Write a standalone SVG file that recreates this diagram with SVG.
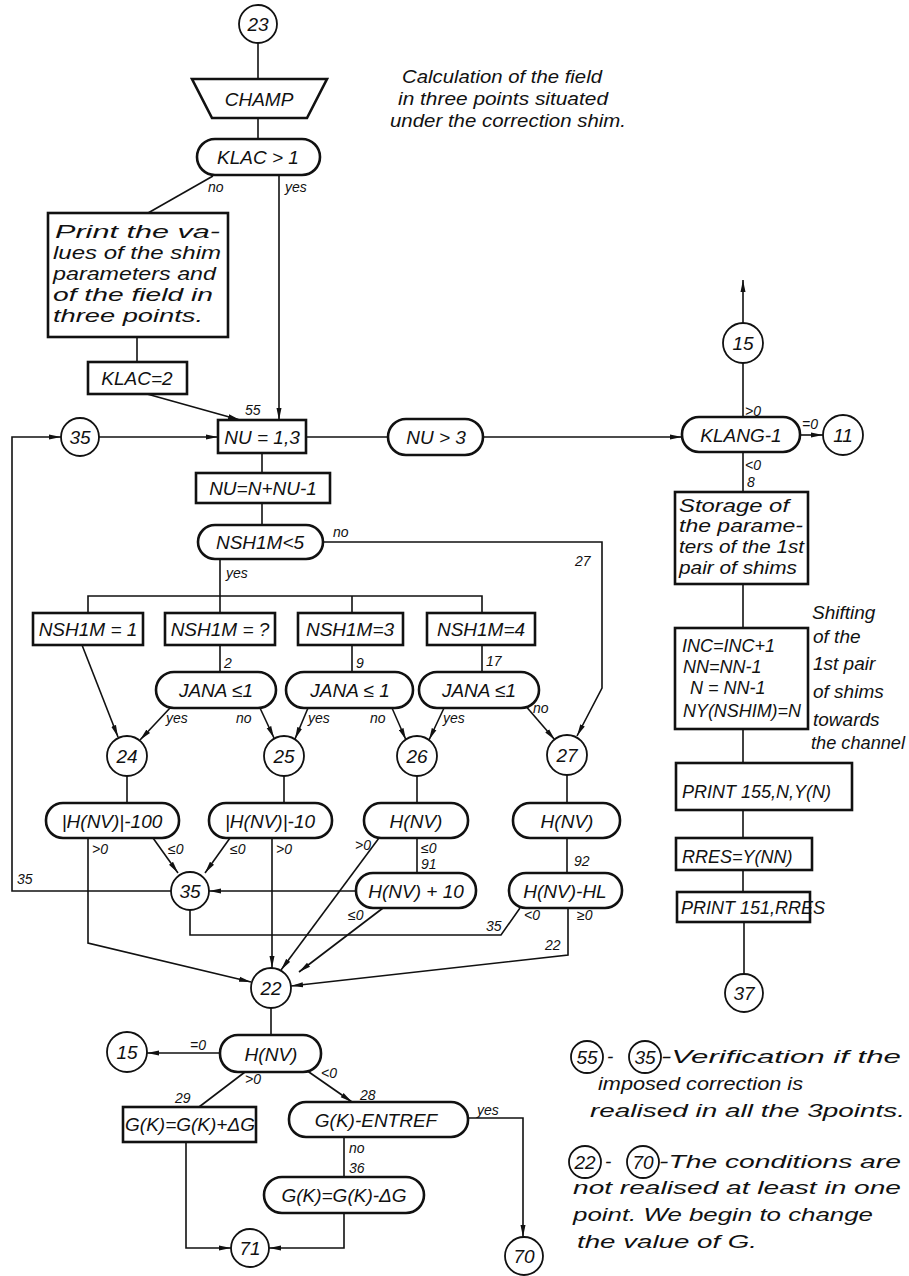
<svg xmlns="http://www.w3.org/2000/svg" width="909" height="1276" viewBox="0 0 909 1276">
<defs>
<marker id="ar" markerUnits="userSpaceOnUse" markerWidth="12" markerHeight="6" refX="12" refY="3" orient="auto"><path d="M0,0.5 L12,3 L0,5.5 z" fill="#111"/></marker>
<style>
.ln{stroke:#111;stroke-width:1.6;fill:none}
.bx{stroke:#111;stroke-width:2.6;fill:#fff}
.ci{stroke:#111;stroke-width:1.8;fill:#fff}
text{font-family:"Liberation Sans",Arial,sans-serif;font-style:italic;fill:#111}
.m{font-size:19px;text-anchor:middle}
.s{font-size:14px}
.n{font-size:18px}
.h{font-size:19px}
</style>
</defs>
<rect width="909" height="1276" fill="#fff"/>
<g id="connectors">
<path class="ln" d="M258,43 V79"/>
<path class="ln" d="M258,118 V139"/>
<path class="ln" d="M213,176 L148,213"/>
<path class="ln" d="M279,175 V420" marker-end="url(#ar)"/>
<path class="ln" d="M137,337 V362"/>
<path class="ln" d="M147,394 L240,420" marker-end="url(#ar)"/>
<path class="ln" d="M171,891 H12 V437 H61" marker-end="url(#ar)"/>
<path class="ln" d="M99,437 H218" marker-end="url(#ar)"/>
<path class="ln" d="M306,437 H388"/>
<path class="ln" d="M483,437 H682" marker-end="url(#ar)"/>
<path class="ln" d="M800,435 H823" marker-end="url(#ar)"/>
<path class="ln" d="M743,417 V363"/>
<path class="ln" d="M743,323 V280" marker-end="url(#ar)"/>
<path class="ln" d="M743,452 V492"/>
<path class="ln" d="M743,584 V628"/>
<path class="ln" d="M743,729 V763"/>
<path class="ln" d="M743,810 V838"/>
<path class="ln" d="M743,870 V892"/>
<path class="ln" d="M744,922 V974"/>
<path class="ln" d="M262,453 V473"/>
<path class="ln" d="M262,503 V525"/>
<path class="ln" d="M323,542 H602 V688 L577,736" marker-end="url(#ar)"/>
<path class="ln" d="M220,559 V613"/>
<path class="ln" d="M88,613 V596 H482 V613"/>
<path class="ln" d="M352,596 V613"/>
<path class="ln" d="M82,645 L118,737" marker-end="url(#ar)"/>
<path class="ln" d="M220,645 V672"/>
<path class="ln" d="M352,645 V672"/>
<path class="ln" d="M482,645 V672"/>
<path class="ln" d="M170,708 L140,740" marker-end="url(#ar)"/>
<path class="ln" d="M260,708 L274,738" marker-end="url(#ar)"/>
<path class="ln" d="M308,708 L295,739" marker-end="url(#ar)"/>
<path class="ln" d="M392,708 L406,740" marker-end="url(#ar)"/>
<path class="ln" d="M444,708 L429,740" marker-end="url(#ar)"/>
<path class="ln" d="M524,704 L555,740" marker-end="url(#ar)"/>
<path class="ln" d="M127,776 V803"/>
<path class="ln" d="M284,776 V803"/>
<path class="ln" d="M417,776 V803"/>
<path class="ln" d="M567,775 V803"/>
<path class="ln" d="M88,838 V943 L251,982" marker-end="url(#ar)"/>
<path class="ln" d="M153,838 L178,873" marker-end="url(#ar)"/>
<path class="ln" d="M230,838 L205,873" marker-end="url(#ar)"/>
<path class="ln" d="M272,838 V968" marker-end="url(#ar)"/>
<path class="ln" d="M379,838 L281,970" marker-end="url(#ar)"/>
<path class="ln" d="M417,838 V873"/>
<path class="ln" d="M356,891 H209" marker-end="url(#ar)"/>
<path class="ln" d="M383,908 L299,972" marker-end="url(#ar)"/>
<path class="ln" d="M567,838 V873"/>
<path class="ln" d="M520,908 L501,935 H190 V910"/>
<path class="ln" d="M568,908 V955 L291,986" marker-end="url(#ar)"/>
<path class="ln" d="M271,1008 V1035"/>
<path class="ln" d="M220,1053 H147" marker-end="url(#ar)"/>
<path class="ln" d="M245,1072 L199,1107"/>
<path class="ln" d="M306,1070 L352,1102" marker-end="url(#ar)"/>
<path class="ln" d="M468,1118 H523 V1237" marker-end="url(#ar)"/>
<path class="ln" d="M344,1137 V1177"/>
<path class="ln" d="M344,1213 V1248 H269" marker-end="url(#ar)"/>
<path class="ln" d="M186,1142 V1248 H231" marker-end="url(#ar)"/>
</g>
<g id="labels">
<text class="s" x="208" y="192">no</text>
<text class="s" x="285" y="192">yes</text>
<text class="s" x="245" y="415" font-size="16">55</text>
<text class="s" x="333" y="537">no</text>
<text class="s" x="575" y="566" font-size="16">27</text>
<text class="s" x="226" y="578">yes</text>
<text class="s" x="224" y="668">2</text>
<text class="s" x="356" y="668">9</text>
<text class="s" x="486" y="666">17</text>
<text class="s" x="166" y="723">yes</text>
<text class="s" x="236" y="723">no</text>
<text class="s" x="308" y="723">yes</text>
<text class="s" x="370" y="723">no</text>
<text class="s" x="443" y="723">yes</text>
<text class="s" x="533" y="713">no</text>
<text class="s" x="92" y="854">&gt;0</text>
<text class="s" x="168" y="854">≤0</text>
<text class="s" x="230" y="854">≤0</text>
<text class="s" x="276" y="854">&gt;0</text>
<text class="s" x="355" y="850">&gt;0</text>
<text class="s" x="421" y="853">≤0</text>
<text class="s" x="421" y="869">91</text>
<text class="s" x="574" y="866">92</text>
<text class="s" x="17" y="884" font-size="16">35</text>
<text class="s" x="348" y="920">≤0</text>
<text class="s" x="486" y="931">35</text>
<text class="s" x="524" y="920">&lt;0</text>
<text class="s" x="577" y="920">≥0</text>
<text class="s" x="545" y="950">22</text>
<text class="s" x="190" y="1050">=0</text>
<text class="s" x="245" y="1084">&gt;0</text>
<text class="s" x="321" y="1078">&lt;0</text>
<text class="s" x="175" y="1103">29</text>
<text class="s" x="360" y="1100">28</text>
<text class="s" x="477" y="1115">yes</text>
<text class="s" x="349" y="1153">no</text>
<text class="s" x="349" y="1173">36</text>
<text class="s" x="745" y="416">&gt;0</text>
<text class="s" x="802" y="429">=0</text>
<text class="s" x="745" y="470">&lt;0</text>
<text class="s" x="747" y="487">8</text>
</g>
<g id="n23"><circle class="ci" cx="258" cy="24" r="19"/><text class="m" x="258" y="31">23</text></g>
<g id="champ"><polygon class="bx" points="192,79 327,79 307,118 212,118"/><text class="m" x="259" y="106" font-size="20">CHAMP</text></g>
<g id="klac1"><rect class="bx" x="197" y="139" width="123" height="36" rx="18"/><text class="m" x="258" y="164" font-size="20">KLAC &gt; 1</text></g>
<g id="print"><rect class="bx" x="48" y="213" width="180" height="124"/>
<text class="h" x="55" y="238" font-size="21" textLength="165" lengthAdjust="spacingAndGlyphs">Print the va-</text>
<text class="h" x="53" y="259" font-size="21" textLength="168" lengthAdjust="spacingAndGlyphs">lues of the shim</text>
<text class="h" x="53" y="280" font-size="21" textLength="163" lengthAdjust="spacingAndGlyphs">parameters and</text>
<text class="h" x="53" y="301" font-size="21" textLength="160" lengthAdjust="spacingAndGlyphs">of the field in</text>
<text class="h" x="53" y="322" font-size="21" textLength="150" lengthAdjust="spacingAndGlyphs">three points.</text></g>
<g id="klac2"><rect class="bx" x="88" y="362" width="99" height="32"/><text class="m" x="137" y="385" font-size="20">KLAC=2</text></g>
<g id="nu13"><rect class="bx" x="218" y="420" width="88" height="33"/><text class="m" x="262" y="444" font-size="20">NU = 1,3</text></g>
<g id="c35a"><circle class="ci" cx="80" cy="437" r="19"/><text class="m" x="80" y="444" font-size="20">35</text></g>
<g id="nu3"><rect class="bx" x="388" y="419" width="95" height="36" rx="18"/><text class="m" x="436" y="444" font-size="20">NU &gt; 3</text></g>
<g id="klang"><rect class="bx" x="682" y="417" width="118" height="35" rx="17"/><text class="m" x="741" y="442" font-size="20">KLANG-1</text></g>
<g id="c11"><circle class="ci" cx="843" cy="435" r="20"/><text class="m" x="843" y="442" font-size="20">11</text></g>
<g id="c15r"><circle class="ci" cx="743" cy="343" r="20"/><text class="m" x="743" y="350" font-size="20">15</text></g>
<g id="storage"><rect class="bx" x="675" y="492" width="133" height="92"/>
<text class="h" x="679" y="512" font-size="20" textLength="110" lengthAdjust="spacingAndGlyphs">Storage of</text>
<text class="h" x="679" y="532" font-size="20" textLength="124" lengthAdjust="spacingAndGlyphs">the parame-</text>
<text class="h" x="679" y="553" font-size="20" textLength="125" lengthAdjust="spacingAndGlyphs">ters of the 1st</text>
<text class="h" x="679" y="574" font-size="20" textLength="118" lengthAdjust="spacingAndGlyphs">pair of shims</text></g>
<g id="inc"><rect class="bx" x="675" y="628" width="133" height="101"/>
<text class="n" x="682" y="652">INC=INC+1</text>
<text class="n" x="683" y="673">NN=NN-1</text>
<text class="n" x="690" y="694">N = NN-1</text>
<text class="n" x="683" y="717" textLength="118" lengthAdjust="spacingAndGlyphs">NY(NSHIM)=N</text></g>
<g id="p155"><rect class="bx" x="676" y="763" width="176" height="47"/><text class="n" x="682" y="798" font-size="20">PRINT 155,N,Y(N)</text></g>
<g id="rres"><rect class="bx" x="676" y="838" width="136" height="32"/><text class="n" x="682" y="863" font-size="19">RRES=Y(NN)</text></g>
<g id="p151"><rect class="bx" x="677" y="892" width="133" height="30"/><text class="n" x="681" y="914" font-size="17">PRINT 151,RRES</text></g>
<g id="c37"><circle class="ci" cx="744" cy="993" r="19"/><text class="m" x="744" y="1000" font-size="20">37</text></g>
<g id="nun"><rect class="bx" x="196" y="473" width="134" height="30"/><text class="m" x="263" y="495" font-size="20">NU=N+NU-1</text></g>
<g id="nsh5"><rect class="bx" x="198" y="525" width="125" height="34" rx="17"/><text class="m" x="260" y="549" font-size="20">NSH1M&lt;5</text></g>
<g id="nsh1"><rect class="bx" x="33" y="613" width="110" height="32"/><text class="m" x="88" y="636" font-size="18">NSH1M = 1</text></g>
<g id="nsh2"><rect class="bx" x="165" y="613" width="110" height="32"/><text class="m" x="220" y="636" font-size="18">NSH1M = ?</text></g>
<g id="nsh3"><rect class="bx" x="298" y="613" width="105" height="32"/><text class="m" x="350" y="636" font-size="18">NSH1M=3</text></g>
<g id="nsh4"><rect class="bx" x="427" y="613" width="108" height="32"/><text class="m" x="481" y="636" font-size="18">NSH1M=4</text></g>
<g id="jana1"><rect class="bx" x="156" y="672" width="120" height="36" rx="18"/><text class="m" x="216" y="697" font-size="20">JANA ≤1</text></g>
<g id="jana2"><rect class="bx" x="286" y="672" width="127" height="36" rx="18"/><text class="m" x="350" y="697" font-size="20">JANA ≤ 1</text></g>
<g id="jana3"><rect class="bx" x="419" y="672" width="120" height="36" rx="18"/><text class="m" x="479" y="697" font-size="20">JANA ≤1</text></g>
<g id="c24"><circle class="ci" cx="127" cy="756" r="20"/><text class="m" x="127" y="763" font-size="20">24</text></g>
<g id="c25"><circle class="ci" cx="284" cy="756" r="20"/><text class="m" x="284" y="763" font-size="20">25</text></g>
<g id="c26"><circle class="ci" cx="417" cy="756" r="20"/><text class="m" x="417" y="763" font-size="20">26</text></g>
<g id="c27"><circle class="ci" cx="567" cy="755" r="20"/><text class="m" x="567" y="762" font-size="20">27</text></g>
<g id="hA"><rect class="bx" x="46" y="803" width="133" height="35" rx="17"/><text class="m" x="112" y="828">|H(NV)|-100</text></g>
<g id="hB"><rect class="bx" x="209" y="803" width="123" height="35" rx="17"/><text class="m" x="270" y="828">|H(NV)|-10</text></g>
<g id="hC"><rect class="bx" x="364" y="803" width="104" height="35" rx="17"/><text class="m" x="416" y="828" font-size="20">H(NV)</text></g>
<g id="hD"><rect class="bx" x="513" y="803" width="107" height="35" rx="17"/><text class="m" x="567" y="828" font-size="20">H(NV)</text></g>
<g id="c35m"><circle class="ci" cx="190" cy="891" r="19"/><text class="m" x="190" y="898" font-size="20">35</text></g>
<g id="hE"><rect class="bx" x="356" y="873" width="120" height="35" rx="17"/><text class="m" x="416" y="898">H(NV) + 10</text></g>
<g id="hF"><rect class="bx" x="509" y="873" width="113" height="35" rx="17"/><text class="m" x="565" y="898">H(NV)-HL</text></g>
<g id="c22"><circle class="ci" cx="271" cy="988" r="20"/><text class="m" x="271" y="995" font-size="20">22</text></g>
<g id="hG"><rect class="bx" x="220" y="1035" width="101" height="37" rx="18"/><text class="m" x="271" y="1061" font-size="20">H(NV)</text></g>
<g id="c15l"><circle class="ci" cx="127" cy="1052" r="20"/><text class="m" x="127" y="1059" font-size="20">15</text></g>
<g id="gplus"><rect class="bx" x="123" y="1107" width="133" height="35"/><text class="m" x="190" y="1131" font-size="17">G(K)=G(K)+ΔG</text></g>
<g id="entref"><rect class="bx" x="289" y="1102" width="179" height="35" rx="17"/><text class="m" x="376" y="1127" font-size="20">G(K)-ENTREF</text></g>
<g id="gminus"><rect class="bx" x="264" y="1177" width="160" height="36" rx="18"/><text class="m" x="344" y="1202" font-size="20">G(K)=G(K)-ΔG</text></g>
<g id="c71"><circle class="ci" cx="250" cy="1248" r="19"/><text class="m" x="250" y="1255" font-size="20">71</text></g>
<g id="c70"><circle class="ci" cx="524" cy="1256" r="19"/><text class="m" x="524" y="1263" font-size="20">70</text></g>
<g id="caption">
<text class="h" x="402" y="83" font-size="22" textLength="200" lengthAdjust="spacingAndGlyphs">Calculation of the field</text>
<text class="h" x="398" y="105" font-size="22" textLength="210" lengthAdjust="spacingAndGlyphs">in three points situated</text>
<text class="h" x="390" y="127" font-size="22" textLength="236" lengthAdjust="spacingAndGlyphs">under the correction shim.</text>
</g>
<g id="shiftnote">
<text class="h" x="812" y="619" font-size="21">Shifting</text>
<text class="h" x="813" y="643" font-size="21">of the</text>
<text class="h" x="813" y="670" font-size="21">1st pair</text>
<text class="h" x="813" y="698" font-size="21">of shims</text>
<text class="h" x="813" y="726" font-size="21">towards</text>
<text class="h" x="811" y="749" font-size="19" textLength="94" lengthAdjust="spacingAndGlyphs">the channel</text>
</g>
<g id="note1">
<circle class="ci" cx="587" cy="1057" r="16"/><text class="m" x="587" y="1064" font-size="18">55</text>
<text class="h" x="607" y="1063" font-size="21">-</text>
<circle class="ci" cx="645" cy="1057" r="16"/><text class="m" x="645" y="1064" font-size="18">35</text>
<text class="h" x="661" y="1063" font-size="22" textLength="240" lengthAdjust="spacingAndGlyphs">-Verification if the</text>
<text class="h" x="598" y="1090" font-size="22" textLength="205" lengthAdjust="spacingAndGlyphs">imposed correction is</text>
<text class="h" x="590" y="1117" font-size="22" textLength="315" lengthAdjust="spacingAndGlyphs">realised in all the 3points.</text>
</g>
<g id="note2">
<circle class="ci" cx="585" cy="1162" r="16"/><text class="m" x="585" y="1169" font-size="18">22</text>
<text class="h" x="605" y="1168" font-size="21">-</text>
<circle class="ci" cx="643" cy="1162" r="16"/><text class="m" x="643" y="1169" font-size="18">70</text>
<text class="h" x="659" y="1168" font-size="22" textLength="242" lengthAdjust="spacingAndGlyphs">-The conditions are</text>
<text class="h" x="573" y="1194" font-size="22" textLength="328" lengthAdjust="spacingAndGlyphs">not realised at least in one</text>
<text class="h" x="573" y="1221" font-size="22" textLength="300" lengthAdjust="spacingAndGlyphs">point. We begin to change</text>
<text class="h" x="577" y="1248" font-size="22" textLength="180" lengthAdjust="spacingAndGlyphs">the value of G.</text>
</g>
</svg>
